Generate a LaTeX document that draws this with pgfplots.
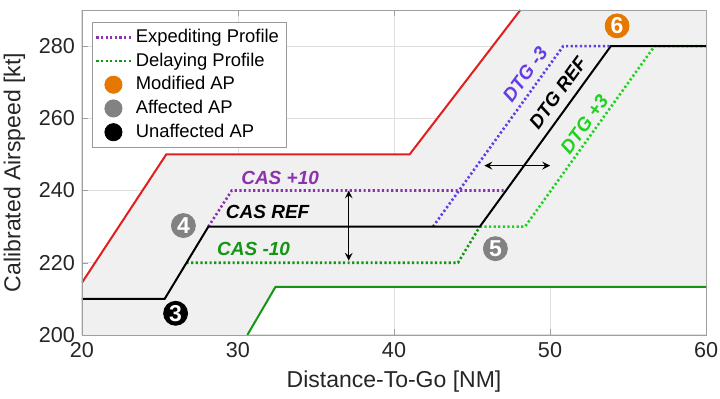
\documentclass[border=0pt]{standalone}
\usepackage{pgfplots}
\pgfplotsset{compat=1.18}
\usepackage{fontspec}
\setmainfont{Liberation Sans}
\definecolor{fillgray}{RGB}{240,240,240}
\definecolor{gridgray}{RGB}{223,223,223}
\definecolor{myred}{RGB}{225,30,30}
\definecolor{mygreen}{RGB}{20,150,20}
\definecolor{mypurple}{RGB}{140,50,175}
\definecolor{myviolet}{RGB}{100,60,230}
\definecolor{myltgreen}{RGB}{30,210,30}
\definecolor{myorange}{RGB}{230,120,0}
\definecolor{mygray}{RGB}{130,130,130}
\definecolor{textgray}{RGB}{38,38,38}
\tikzset{dotline/.style={line width=1.3pt, dash pattern=on 1.1pt off 1.2pt}}
\begin{document}
\begin{tikzpicture}
\begin{axis}[
 scale only axis, width=312pt, height=162.5pt,
 xmin=20, xmax=60, ymin=200, ymax=290,
 xtick={20,30,40,50,60}, ytick={200,220,240,260,280},
 grid=major, grid style={gridgray, line width=0.5pt},
 axis line style={gray!75}, tick style={gray!75}, tick align=inside, major tick length=3pt,
 ticklabel style={font=\fontsize{10.8}{12}\selectfont, text=textgray},
 /pgf/number format/assume math mode=true,
 xlabel={Distance-To-Go [NM]}, ylabel={Calibrated Airspeed [kt]},
 label style={font=\fontsize{11.5}{13}\selectfont, text=textgray},
 legend style={at={(0.0155,0.964)}, anchor=north west, draw=gray!80, fill=white,
   font=\fontsize{9.2}{10}\selectfont, row sep=-0.3pt, inner sep=1.5pt},
 legend cell align=left,
]
\addlegendimage{mypurple, dotline}
\addlegendentry{Expediting Profile}
\addlegendimage{mygreen, dotline}
\addlegendentry{Delaying Profile}
\addlegendimage{only marks, mark=*, mark size=4.3pt, myorange}
\addlegendentry{Modified AP}
\addlegendimage{only marks, mark=*, mark size=4.3pt, mygray}
\addlegendentry{Affected AP}
\addlegendimage{only marks, mark=*, mark size=4.3pt, black}
\addlegendentry{Unaffected AP}

% feasible envelope
\addplot[fill=fillgray, draw=none, forget plot] coordinates {
 (20,200) (30.6,200) (32.4,213.3) (60,213.3) (60,290) (48.1,290) (41,250) (25.4,250) (20,214.5) (20,200)};
\addplot[myred, line width=1pt, forget plot] coordinates {(20,214.5) (25.4,250) (41,250) (48.1,290)};
\addplot[mygreen, line width=1pt, forget plot] coordinates {(30.6,200) (32.4,213.3) (60,213.3)};

% expediting
\addplot[mypurple, dotline, forget plot] coordinates {(28.1,230) (29.6,240) (47.2,240)};
\addplot[myviolet, dotline, forget plot] coordinates {(42.5,230) (50.85,280) (53.9,280)};
% delaying
\addplot[mygreen, dotline, forget plot] coordinates {(26.7,220) (44.1,220) (45.5,230)};
\addplot[myltgreen, dotline, forget plot] coordinates {(45.5,230) (48.4,230) (56.7,280) (60,280)};
% reference
\addplot[black, line width=1pt, forget plot] coordinates {(20,210) (25.3,210) (28.1,230) (45.5,230) (53.9,280) (60,280)};

% arrows
\addplot[black, line width=0.7pt, <->, >=stealth, forget plot] coordinates {(37.1,240) (37.1,220.6)};
\addplot[black, line width=0.7pt, <->, >=stealth, forget plot] coordinates {(45.8,246.9) (50.0,246.9)};

% numbered points
\addplot[only marks, mark=*, mark size=6pt, black, point meta=explicit symbolic, nodes near coords,
  nodes near coords style={anchor=center, text=white, font=\bfseries\fontsize{11.5}{11}\selectfont}, forget plot]
  coordinates {(26.0,206) [3]};
\addplot[only marks, mark=*, mark size=6pt, mygray, point meta=explicit symbolic, nodes near coords,
  nodes near coords style={anchor=center, text=white, font=\bfseries\fontsize{11.5}{11}\selectfont}, forget plot]
  coordinates {(26.5,230.3) [4] (46.5,223.9) [5]};
\addplot[only marks, mark=*, mark size=6pt, myorange, point meta=explicit symbolic, nodes near coords,
  nodes near coords style={anchor=center, text=white, font=\bfseries\fontsize{11.5}{11}\selectfont}, forget plot]
  coordinates {(54.3,285.6) [6]};

% text labels
\node[mypurple, font=\bfseries\itshape\fontsize{9.5}{10}\selectfont] at (axis cs:32.7,243.6) {CAS +10};
\node[black, font=\bfseries\itshape\fontsize{9.5}{10}\selectfont] at (axis cs:31.9,234) {CAS REF};
\node[mygreen, font=\bfseries\itshape\fontsize{9.5}{10}\selectfont] at (axis cs:31.0,223.8) {CAS -10};
\node[myviolet, rotate=54, inner sep=0pt, font=\bfseries\itshape\fontsize{9.5}{10}\selectfont] at (axis cs:48.4,272.2) {DTG -3};
\node[black, rotate=54, inner sep=0pt, font=\bfseries\itshape\fontsize{9.5}{10}\selectfont] at (axis cs:50.5,267.1) {DTG REF};
\node[myltgreen, rotate=54, inner sep=0pt, font=\bfseries\itshape\fontsize{9.5}{10}\selectfont] at (axis cs:52.2,258.3) {DTG +3};

\draw[gray!75] (rel axis cs:0,0) rectangle (rel axis cs:1,1);
\coordinate (sw) at (rel axis cs:0,0);
\coordinate (ne) at (rel axis cs:1,1);
\end{axis}
\pgfresetboundingbox
\path[use as bounding box] ([xshift=-41pt,yshift=-32pt]sw) rectangle ([xshift=7pt,yshift=5pt]ne);
\end{tikzpicture}
\end{document}
